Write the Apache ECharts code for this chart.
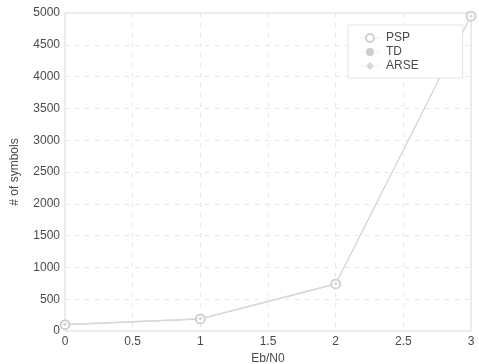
<!DOCTYPE html>
<html><head><meta charset="utf-8">
<script src="https://cdn.jsdelivr.net/npm/echarts@6/dist/echarts.min.js"></script>
<style>html,body{margin:0;padding:0;background:#fff}#c{width:479px;height:364px}</style>
</head><body><div id="c"></div>
<script>
const xValues = [0, 1, 2, 3];
const pspValues = [100, 190, 740, 4950];
const tdValues = [95, 185, 735, 4950];
const arseValues = [105, 195, 745, 4950];
const yTicks = [0, 500, 1000, 1500, 2000, 2500, 3000, 3500, 4000, 4500, 5000];

const pair = (xs, ys) => xs.map((x, i) => [x, ys[i]]);
const chart = echarts.init(document.getElementById('c'), null, {renderer: 'canvas'});
const txt = '#4a4a4a';
const font = 'Liberation Sans';
chart.setOption({
  animation: false,
  backgroundColor: '#fff',
  grid: {left: 65, right: 8, top: 13, bottom: 33, show: true, borderColor: '#dcdcdc', borderWidth: 1,
         outerBoundsMode: 'none', containLabel: false},
  xAxis: {
    type: 'value', min: 0, max: 3, interval: 0.5,
    name: 'Eb/N0', nameLocation: 'middle', nameGap: 21,
    nameTextStyle: {color: txt, fontFamily: font, fontSize: 12},
    axisLine: {show: false}, axisTick: {show: false},
    axisLabel: {color: txt, fontFamily: font, fontSize: 12, margin: 5},
    splitLine: {show: true, lineStyle: {color: '#e6e6e6', type: [4, 6]}}
  },
  yAxis: {
    type: 'value', min: 0, max: 5000, interval: 500,
    name: '# of symbols', nameLocation: 'middle', nameGap: 44,
    nameTextStyle: {color: txt, fontFamily: font, fontSize: 12},
    axisLine: {show: false}, axisTick: {show: false},
    axisLabel: {color: txt, fontFamily: font, fontSize: 12, margin: 5,
      formatter: v => yTicks.includes(v) ? String(v) : ''},
    splitLine: {show: true, lineStyle: {color: '#e6e6e6', type: [4, 6]}}
  },
  legend: {
    orient: 'vertical', left: 348, top: 25,
    padding: [7, 44, 6, 10], itemGap: 2, itemWidth: 22, itemHeight: 10,
    borderColor: '#e4e4e4', borderWidth: 1, backgroundColor: '#fff',
    lineStyle: {opacity: 0.15},
    textStyle: {color: txt, fontFamily: font, fontSize: 12, padding: [0, 0, 0, 0]},
    data: ['PSP', 'TD', 'ARSE']
  },
  series: [
    {name: 'PSP', type: 'line', data: pair(xValues, pspValues), symbol: 'emptyCircle', symbolSize: 9,
     itemStyle: {color: '#d0d0d0', borderWidth: 1}, lineStyle: {color: '#cdcdcd', width: 1}},
    {name: 'TD', type: 'line', data: pair(xValues, tdValues), symbol: 'circle', symbolSize: 2,
     itemStyle: {color: '#cccccc'}, lineStyle: {color: '#d6d6d6', width: 1}},
    {name: 'ARSE', type: 'line', data: pair(xValues, arseValues), symbol: 'diamond', symbolSize: 4,
     itemStyle: {color: '#d8d8d8'}, lineStyle: {color: '#dadada', width: 1}}
  ]
});
</script></body></html>
